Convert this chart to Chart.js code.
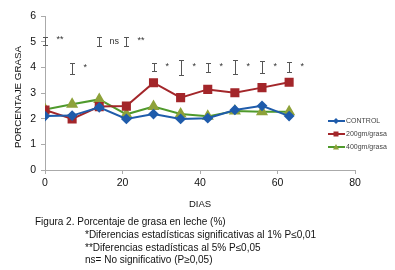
<!DOCTYPE html>
<html>
<head>
<meta charset="utf-8">
<script src="https://cdn.jsdelivr.net/npm/chart.js@4.4.0/dist/chart.umd.min.js"></script>
<style>
  body { margin: 0; background: #fff; }
  #caja { position: relative; width: 395px; height: 270px; }
  #grafico { position: absolute; left: 0; top: 0; }
  .nota { position: absolute; font-family: "Liberation Sans", Arial, sans-serif; font-size: 10px; color: #111; white-space: nowrap; }
</style>
</head>
<body>
<div id="caja">
  <canvas id="grafico" width="395" height="270"></canvas>
  <div class="nota" style="left:35px; top:216px;">Figura 2. Porcentaje de grasa en leche (%)</div>
  <div class="nota" style="left:85px; top:229px;">*Diferencias estadísticas significativas al 1% P≤0,01</div>
  <div class="nota" style="left:85px; top:242px;">**Diferencias estadísticas al 5% P≤0,05</div>
  <div class="nota" style="left:85px; top:254px;">ns= No significativo (P≥0,05)</div>
</div>
<script>
// dias de muestreo
const dias = [0, 7, 14, 21, 28, 35, 42, 49, 56, 63];

// porcentaje de grasa por tratamiento
const control = [2.1, 2.12, 2.44, 1.99, 2.18, 1.99, 2.02, 2.34, 2.5, 2.1];
const grasa200 = [2.34, 1.99, 2.47, 2.49, 3.4, 2.82, 3.14, 3.01, 3.21, 3.42];
const grasa400 = [2.36, 2.56, 2.75, 2.17, 2.47, 2.18, 2.09, 2.3, 2.27, 2.27];

const nombres = ['CONTROL', '200gm/grasa', '400gm/grasa'];

// barras de significancia (centro y semialtura en % grasa)
const sigCentro = [5.03, 3.95, 5.0, 5.0, 4.0, 4.0, 4.0, 4.0, 4.0, 4.0];
const sigMedio = [0.16, 0.21, 0.17, 0.17, 0.16, 0.28, 0.18, 0.27, 0.23, 0.2];
const sigTexto = ['**', '*', 'ns', '**', '*', '*', '*', '*', '*', '*'];

const ticksX = [0, 20, 40, 60, 80];

const tituloY = 'PORCENTAJE GRASA';

const fuente = '"Liberation Sans", Arial, sans-serif';

function puntos(valores) {
    return dias.map((d, i) => ({ x: d, y: valores[i] }));
}

// dibuja las barras "I" con asteriscos
const marcasSig = {
    id: 'marcasSig',
    afterDatasetsDraw(chart) {
        const c = chart.ctx;
        const sx = chart.scales.x;
        const sy = chart.scales.y;
        c.save();
        c.strokeStyle = '#555';
        c.fillStyle = '#333';
        c.lineWidth = 1;
        c.font = '9px ' + fuente;
        c.textBaseline = 'middle';
        dias.forEach((d, i) => {
            const x = Math.round(sx.getPixelForValue(d)) + 0.5;
            const y1 = Math.round(sy.getPixelForValue(sigCentro[i] + sigMedio[i])) + 0.5;
            const y2 = Math.round(sy.getPixelForValue(sigCentro[i] - sigMedio[i])) + 0.5;
            c.beginPath();
            c.moveTo(x, y1); c.lineTo(x, y2);
            c.moveTo(x - 2.5, y1); c.lineTo(x + 2.5, y1);
            c.moveTo(x - 2.5, y2); c.lineTo(x + 2.5, y2);
            c.stroke();
            const ym = sy.getPixelForValue(sigCentro[i]);
            const txt = sigTexto[i];
            const dx = txt == 'ns' ? 10 : 11;
            c.fillText(txt, x + dx, txt == 'ns' ? ym : ym - 1);
        });
        c.restore();
    }
};

// leyenda propia a la derecha y titulo vertical
const leyenda = {
    id: 'leyenda',
    afterDraw(chart) {
        const c = chart.ctx;
        c.save();
        c.font = '7px ' + fuente;
        c.textBaseline = 'middle';
        chart.data.datasets.forEach((ds, i) => {
            const y = 121 + i * 13;
            c.strokeStyle = ds.borderColor;
            c.lineWidth = 2;
            c.beginPath();
            c.moveTo(328, y); c.lineTo(345, y);
            c.stroke();
            c.fillStyle = ds.pointBackgroundColor;
            c.beginPath();
            if (ds.pointStyle == 'rect') {
                c.rect(333.5, y - 2.5, 5, 5);
            } else if (ds.pointStyle == 'triangle') {
                c.moveTo(336, y - 3); c.lineTo(339, y + 2.5); c.lineTo(333, y + 2.5);
            } else {
                c.moveTo(336, y - 3); c.lineTo(339, y); c.lineTo(336, y + 3); c.lineTo(333, y);
            }
            c.fill();
            c.fillStyle = '#444';
            c.fillText(ds.label, 346, y);
        });

        // titulo eje Y
        c.translate(18, 97);
        c.rotate(-Math.PI / 2);
        c.textAlign = 'center';
        c.fillStyle = '#111';
        c.font = '9.8px ' + fuente;
        c.fillText(tituloY, 0, 0);
        c.restore();
    }
};

const ctx = document.getElementById('grafico').getContext('2d');

new Chart(ctx, {
    type: 'line',
    data: {
        datasets: [
            {
                label: nombres[0],
                data: puntos(control),
                borderColor: '#1f5cab',
                backgroundColor: '#1f5cab',
                pointBackgroundColor: '#1f5cab',
                pointBorderColor: '#1f5cab',
                pointStyle: 'rectRot',
                pointRadius: 4,
                borderWidth: 2
            },
            {
                label: nombres[1],
                data: puntos(grasa200),
                borderColor: '#a3262a',
                backgroundColor: '#a3262a',
                pointBackgroundColor: '#a3262a',
                pointBorderColor: '#a3262a',
                pointStyle: 'rect',
                pointRadius: 5,
                borderWidth: 2
            },
            {
                label: nombres[2],
                data: puntos(grasa400),
                borderColor: '#4f9a2c',
                backgroundColor: '#8ea23a',
                pointBackgroundColor: '#8ea23a',
                pointBorderColor: '#8ea23a',
                pointStyle: 'triangle',
                pointRadius: 5,
                borderWidth: 2
            }
        ]
    },
    options: {
        responsive: false,
        animation: false,
        layout: { padding: { left: 0, top: 16, right: 40, bottom: 60 } },
        plugins: {
            legend: { display: false },
            tooltip: { enabled: false }
        },
        scales: {
            x: {
                type: 'linear',
                min: 0,
                max: 80,
                afterBuildTicks: (s) => { s.ticks = ticksX.map(v => ({ value: v })); },
                afterFit: (s) => { s.height = 40; },
                grid: { display: true, drawOnChartArea: false, drawTicks: true, tickLength: 4, color: '#aaa' },
                border: { color: '#aaa', width: 1 },
                ticks: { color: '#111', font: { family: fuente, size: 10.5 }, padding: 3, maxRotation: 0 },
                title: { display: true, text: 'DIAS', color: '#111', font: { family: fuente, size: 9.5 }, padding: { top: 2, bottom: 0 } }
            },
            y: {
                min: 0,
                max: 6,
                afterFit: (s) => { s.width = 45; },
                grid: { display: true, drawOnChartArea: false, drawTicks: true, tickLength: 4, color: '#aaa' },
                border: { color: '#aaa', width: 1 },
                ticks: { stepSize: 1, color: '#111', font: { family: fuente, size: 10.5 }, padding: 5 }
            }
        }
    },
    plugins: [marcasSig, leyenda]
});
</script>
</body>
</html>
